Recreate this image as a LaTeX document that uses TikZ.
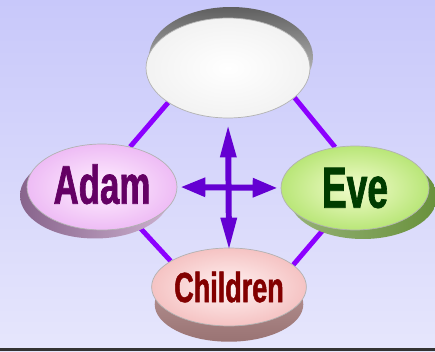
\documentclass[tikz,border=0pt]{standalone}
\usepackage{fontspec}
\usepackage{tikz}
\usetikzlibrary{arrows.meta,shadows,shapes.geometric}
\newfontfamily\lblfont[FakeStretch=0.64,FakeBold=1.2]{Liberation Sans}
\definecolor{bgtop}{RGB}{200,200,250}
\definecolor{bgbot}{RGB}{230,230,252}
\definecolor{linkc}{RGB}{140,0,255}
\definecolor{crossc}{RGB}{100,0,210}
\definecolor{adamin}{RGB}{255,240,255}
\definecolor{adamout}{RGB}{238,188,245}
\definecolor{adamrim}{RGB}{170,125,175}
\definecolor{adamtxt}{RGB}{100,0,100}
\definecolor{evein}{RGB}{242,252,205}
\definecolor{eveout}{RGB}{185,230,120}
\definecolor{everim}{RGB}{105,145,60}
\definecolor{evetxt}{RGB}{0,60,0}
\definecolor{kidin}{RGB}{255,242,242}
\definecolor{kidout}{RGB}{245,195,195}
\definecolor{kidrim}{RGB}{160,112,112}
\definecolor{kidtxt}{RGB}{130,0,0}
\definecolor{toprim}{RGB}{95,95,95}
\pgfdeclarelayer{bg}
\pgfdeclarelayer{links}
\pgfsetlayers{bg,links,main}

\begin{document}
\begin{tikzpicture}[
  x=0.02cm,y=-0.02cm,
  disc/.style={ellipse,draw=gray!60,line width=0.4pt,inner sep=0pt},
  lbl/.style={font=\lblfont\bfseries\fontsize{#1}{#1}\selectfont},
  link/.style={draw=linkc,line width=2.8pt},
  vr/.style={{Triangle[length=6.6mm,width=3mm]}-{Triangle[length=6.6mm,width=3mm]},draw=crossc,fill=crossc,line width=3.4pt},
  hr/.style={{Triangle[length=5mm,width=3.6mm]}-{Triangle[length=5mm,width=3.6mm]},draw=crossc,fill=crossc,line width=3.4pt}
]
\useasboundingbox (0,0) rectangle (435,351);
\begin{pgfonlayer}{bg}
\shade[top color=bgtop,bottom color=bgbot] (0,0) rectangle (435,351);
\fill[black!80] (0,348) rectangle (435,351);
\end{pgfonlayer}

% the four discs
\node[disc,minimum width=3.28cm,minimum height=2cm,inner color=white,outer color=gray!10,
  general shadow={top color=toprim,bottom color=gray!25,shadow xshift=0.06cm,shadow yshift=0.22cm}]
  (top) at (228,68) {};
\node[disc,lbl=31,minimum width=3cm,minimum height=1.72cm,inner color=adamin,outer color=adamout,
  text=adamtxt,
  general shadow={left color=adamrim!80!black,right color=adamrim!60,shadow xshift=-0.14cm,shadow yshift=-0.17cm}]
  (adam) at (102,187) {\raisebox{1.2mm}{Adam}};
\node[disc,lbl=33,minimum width=2.96cm,minimum height=1.68cm,inner color=evein,outer color=eveout,
  text=evetxt,
  general shadow={left color=everim!70,right color=everim,shadow xshift=0.16cm,shadow yshift=-0.18cm}]
  (eve) at (355,188) {Eve};
\node[disc,lbl=24,minimum width=3.04cm,minimum height=1.56cm,inner color=kidin,outer color=kidout,
  text=kidtxt,
  general shadow={top color=kidrim!70,bottom color=kidrim!80!gray,shadow scale=0.96,shadow yshift=-0.36cm}]
  (kids) at (229,287) {\raisebox{-0.8mm}{Children}};

\begin{pgfonlayer}{links}
\draw[link] (top.210) -- (adam.55);
\draw[link] (top.336) -- (eve.116);
\draw[link] (adam.313) -- (kids.156);
\draw[link] (eve.233) -- (kids.19);
\end{pgfonlayer}

\draw[vr,shorten <=0.12cm,shorten >=-0.06cm] (top.south) -- (kids.north);
\draw[hr,shorten <=0.06cm,shorten >=0.06cm] (adam.east) -- (eve.west);
\end{tikzpicture}
\end{document}
